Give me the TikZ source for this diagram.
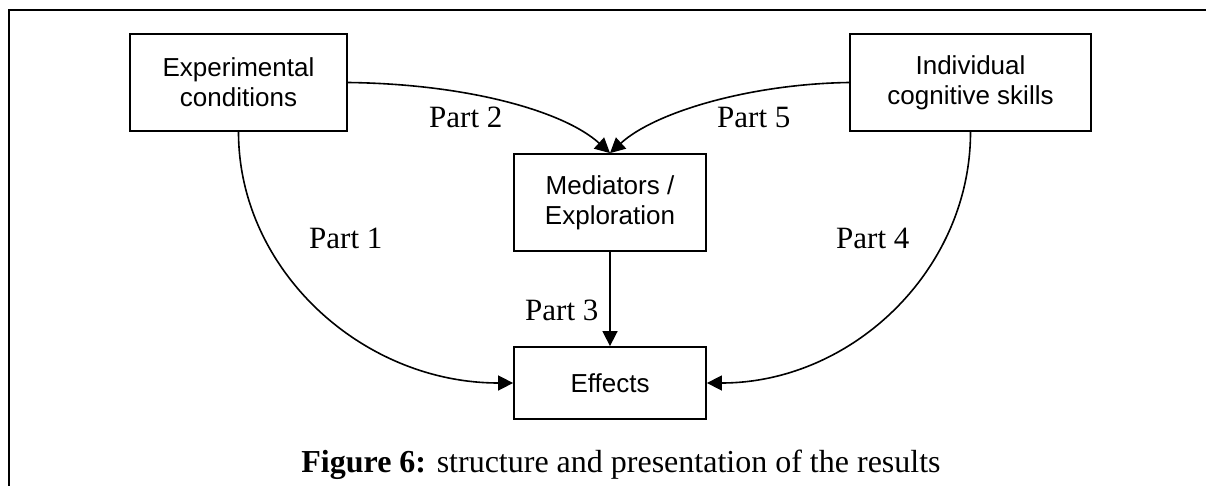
\documentclass[tikz,border=0pt]{standalone}
\usepackage{fontspec}
\setmainfont{Liberation Serif}
\newfontfamily\arialfont{Liberation Sans}
\usetikzlibrary{arrows.meta}
\tikzset{
  box/.style={draw, line width=1.8pt, inner sep=0pt, align=center,
    font=\arialfont\fontsize{26}{30}\selectfont},
  lbl/.style={inner sep=0pt, anchor=base west, font=\fontsize{31}{36}\selectfont},
  conn/.style={line width=1.6pt, -{Triangle[length=15pt,width=15pt]}},
}
\begin{document}
\begin{tikzpicture}[x=1pt,y=-1pt]
\useasboundingbox (0,0) rectangle (1206,486);
\draw[line width=2.4pt] (9,520) -- (9,10) -- (1230,10);
\node[box, minimum width=217pt, minimum height=97pt] (exp) at (238.5,82.5) {Experimental\\conditions};
\node[box, minimum width=241pt, minimum height=97pt] (ics) at (970.5,82.5) {Individual\\cognitive skills};
\node[box, minimum width=192pt, minimum height=97pt] (med) at (610,202.5) {Mediators /\\Exploration};
\node[box, minimum width=192pt, minimum height=72pt] (eff) at (610,383) {Effects};
\draw[conn] (exp.south) .. controls (238.5,270) and (362,383) .. (eff.west);
\draw[conn] (ics.south) .. controls (970.5,270) and (852,383) .. (eff.east);
\draw[conn] (exp.east) .. controls (470,84) and (565,112) .. (med.north);
\draw[conn] (ics.west) .. controls (750,84) and (655,112) .. (med.north);
\draw[conn] (med.south) -- (eff.north);
\node[lbl] (p1) at (309,248) {Part 1};
\node[lbl] (p2) at (429,128) {Part 2};
\node[lbl] (p3) at (525,320) {Part 3};
\node[lbl] (p4) at (836,248) {Part 4};
\node[lbl] (p5) at (717,128) {Part 5};
\node[inner sep=0pt, anchor=base, font=\fontsize{32}{36}\selectfont] (cap) at (621,472) {\textbf{Figure 6:} structure and presentation of the results};
\end{tikzpicture}
\end{document}
